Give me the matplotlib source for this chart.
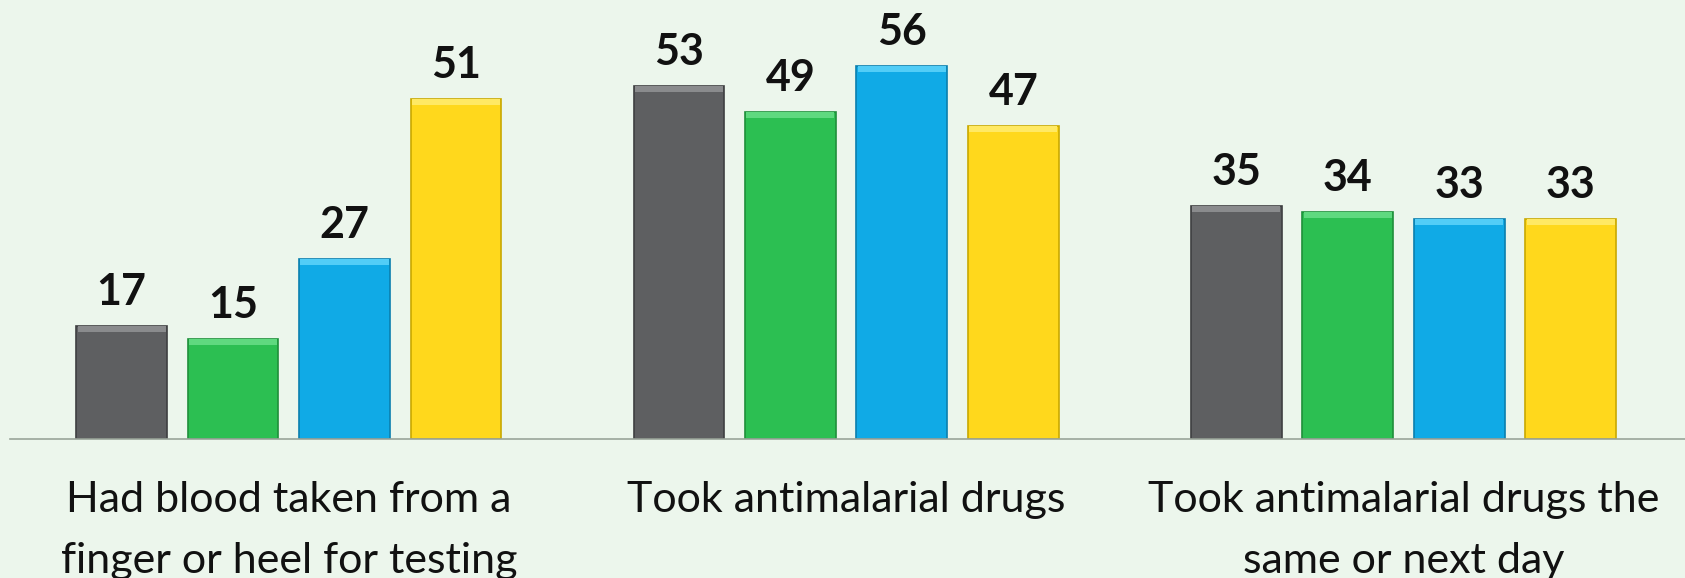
import numpy as np
import matplotlib.pyplot as plt

# Chart data
categories = [
    "Had blood taken from a\nfinger or heel for testing",
    "Took antimalarial drugs",
    "Took antimalarial drugs the\nsame or next day",
]
series_1 = [17, 53, 35]
series_2 = [15, 49, 34]
series_3 = [27, 56, 33]
series_4 = [51, 47, 33]

all_series = [series_1, series_2, series_3, series_4]
colors = ["#5e5f61", "#2cbf52", "#10aae6", "#ffd81c"]
tops = ["#8a8b8d", "#5fd97f", "#52cdf7", "#ffe964"]
edges = ["#3e3f41", "#1f8f3b", "#0a7fae", "#c9a800"]

bg = "#ecf6ec"
fig = plt.figure(figsize=(16.85, 5.78), dpi=100, facecolor=bg)
ax = fig.add_axes([0.006, 0.2405, 0.994, 0.692])
ax.set_facecolor(bg)

x = np.arange(len(categories))
width = 0.163
offsets = [-0.3, -0.1, 0.1, 0.3]

for vals, off, c, t, e in zip(all_series, offsets, colors, tops, edges):
    vals = np.array(vals)
    ax.bar(x + off, vals, width, color=c, edgecolor=e, linewidth=1.2, zorder=2)
    # lighter bevel strip on top of each bar
    ax.bar(x + off, np.full(len(vals), 0.9), width * 0.97, bottom=vals - 0.9,
           color=t, linewidth=0, zorder=3)
    for xi, v in zip(x + off, vals):
        ax.annotate(str(v), (xi, v), xytext=(0, 10), textcoords="offset points",
                    ha="center", va="bottom", fontsize=31, fontweight="bold",
                    family="Lato", color="#111111")

ax.set_xlim(-0.5, 2.505)
ax.set_ylim(0, 60)

ax.set_xticks(x)
ax.set_xticklabels(categories, fontsize=31, family="Lato", color="#111111",
                   linespacing=1.75)
ax.tick_params(axis="x", length=0, pad=30)
ax.set_yticks([])

for s in ["top", "right", "left"]:
    ax.spines[s].set_visible(False)
ax.spines["bottom"].set_color("#9aa59a")
ax.spines["bottom"].set_linewidth(1.2)

plt.savefig("out.png", dpi=100, facecolor=bg)
plt.close()
